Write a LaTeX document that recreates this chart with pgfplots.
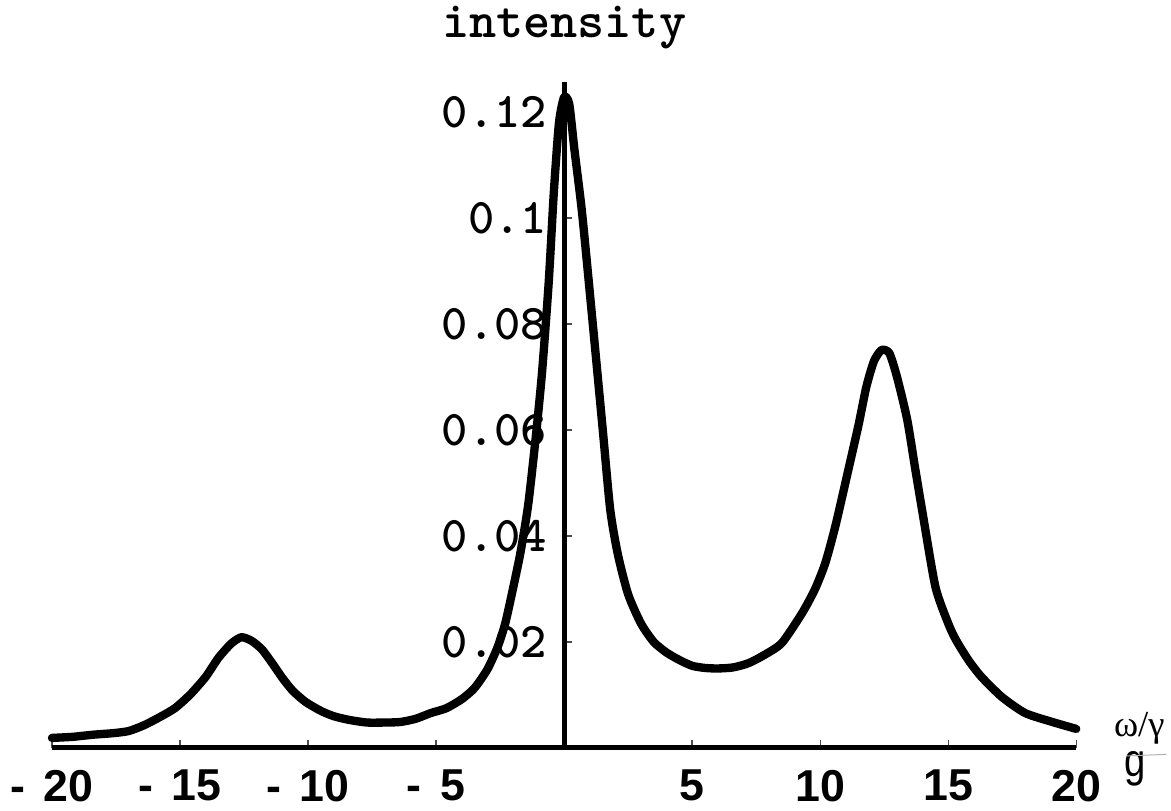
\documentclass[border=0pt]{standalone}
\usepackage{fontspec}
\usepackage{pgfplots}
\pgfplotsset{compat=1.18}
\newfontfamily\plainsans{Liberation Sans}
\newfontfamily\narrowsans[FakeStretch=0.82]{Liberation Sans}
\newfontfamily\greekserif{Liberation Serif}
\newcommand{\negl}[1]{-\hspace{0.42em}#1}

\begin{document}
\begin{tikzpicture}
\begin{axis}[
    scale only axis,
    width=307.2pt, height=199.8pt,
    xmin=-20, xmax=20, ymin=0, ymax=0.1257,
    axis lines=middle,
    axis line style={-, line width=1.5pt},
    xtick={-20,-15,-10,-5,5,10,15,20},
    xticklabels={\negl{20},\negl{15},\negl{10},\negl{5},5,10,15,20},
    ytick={0.02,0.04,0.06,0.08,0.1,0.12},
    yticklabels={0.02,0.04,0.06,0.08,0.1,0.12},
    tick align=inside,
    major tick length=2.4pt,
    tick style={line width=0.4pt, gray!60!black},
    xticklabel style={font=\plainsans\bfseries\fontsize{13.4}{14}\selectfont,
        anchor=north, inner sep=0pt, yshift=-6.4pt},
    yticklabel style={font=\ttfamily\bfseries\fontsize{15}{15}\selectfont,
        anchor=east, inner sep=0pt, xshift=-5pt},
    clip=false,
]
% intensity spectrum
\addplot[black, line width=2.5pt, line join=round, line cap=round, smooth, tension=0.4] coordinates {
    (-20,0.0019) (-19.2,0.0021) (-18.4,0.0025) (-17.6,0.0028) (-17.0,0.0032)
    (-16.4,0.0043) (-15.8,0.0058) (-15.2,0.0075) (-14.6,0.0101) (-14.0,0.0134)
    (-13.5,0.0170) (-13.0,0.0197) (-12.6,0.0209) (-12.2,0.0202) (-11.8,0.0186)
    (-11.4,0.0160) (-11.0,0.0132) (-10.6,0.0108) (-10.1,0.0087) (-9.5,0.0070)
    (-9.0,0.0060) (-8.4,0.0053) (-7.7,0.0048) (-7.0,0.0048) (-6.4,0.0049)
    (-5.8,0.0055) (-5.2,0.0066) (-4.6,0.0075) (-4.0,0.0092) (-3.5,0.0113)
    (-3.0,0.0148) (-2.6,0.0190) (-2.3,0.0235) (-2.0,0.0300) (-1.7,0.0370)
    (-1.4,0.0460) (-1.1,0.0590) (-0.86,0.0710) (-0.6,0.0880) (-0.4,0.1050)
    (-0.2,0.1180) (0.0,0.1228) (0.2,0.1215) (0.4,0.1130) (0.7,0.1010)
    (1.1,0.0810) (1.5,0.0605) (1.8,0.0450) (2.1,0.0365) (2.5,0.0290)
    (3.0,0.0235) (3.5,0.0200) (4.0,0.0180) (4.5,0.0166) (5.0,0.0155)
    (5.5,0.0151) (6.0,0.0150) (6.6,0.0152) (7.2,0.0160) (7.8,0.0175)
    (8.5,0.0198) (9.3,0.0255) (9.8,0.0300) (10.2,0.0349) (10.6,0.0420)
    (11.1,0.0525) (11.5,0.0610) (11.8,0.0681) (12.1,0.0730) (12.4,0.0751)
    (12.7,0.0745) (13.0,0.0700) (13.4,0.0619) (13.7,0.0530) (14.0,0.0443)
    (14.5,0.0304) (15.0,0.0235) (15.3,0.0204) (15.8,0.0165) (16.3,0.0134)
    (17.1,0.0096) (18.0,0.0066) (19.0,0.0050) (20.0,0.0036)
};
\node[font=\ttfamily\bfseries\fontsize{15.5}{15.5}\selectfont, anchor=base]
    at (axis cs:0,0.134) {intensity};
\node[font=\greekserif\fontsize{11}{11}\selectfont, anchor=base west, inner sep=0pt]
    at (axis cs:21.45,0.0021) {ω/γ};
\node[font=\narrowsans\fontsize{14}{14}\selectfont, anchor=base west, inner sep=0pt]
    at (axis cs:21.84,-0.00547) {g};
\draw[gray!60, line width=0.3pt] (axis cs:21.99,-0.0015) -- (axis cs:23.52,-0.0012);
\coordinate (bbsw) at (axis cs:-22.03,-0.01189);
\coordinate (bbne) at (axis cs:23.70,0.14113);
\end{axis}
\pgfresetboundingbox
\useasboundingbox (bbsw) rectangle (bbne);
\end{tikzpicture}
\end{document}
